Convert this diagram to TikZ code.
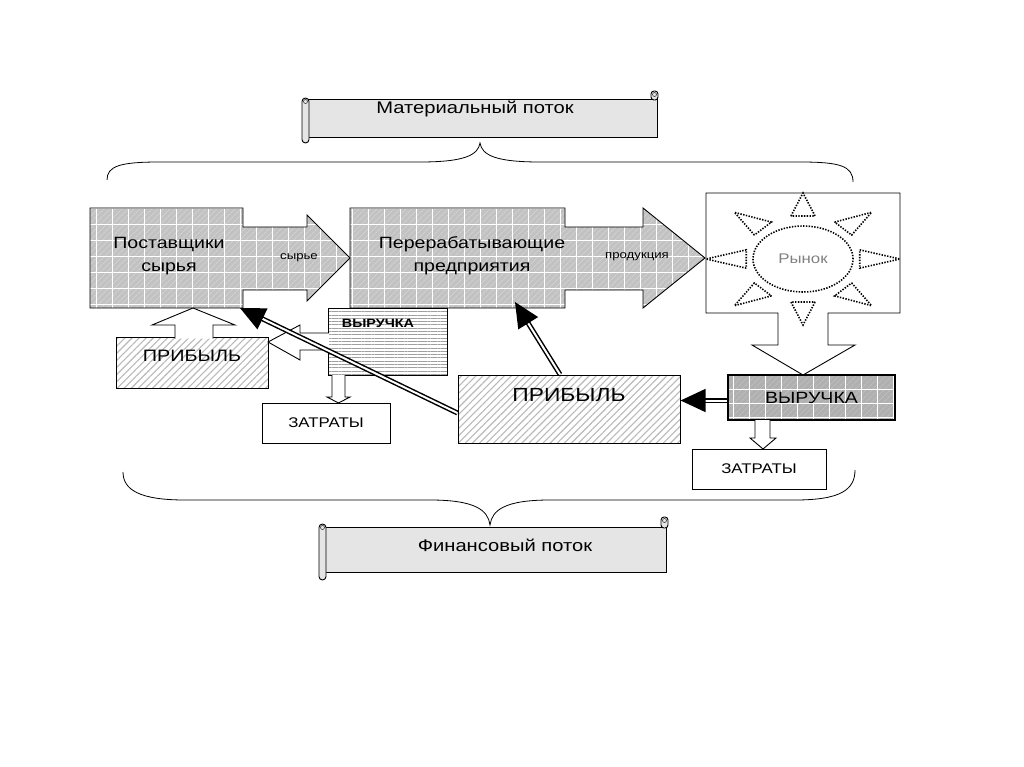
\documentclass[tikz,border=0pt]{standalone}
\usepackage{fontspec}
\setmainfont[FakeStretch=1.2]{Liberation Sans}
\usetikzlibrary{patterns.meta,arrows.meta}

\begin{document}
\begin{tikzpicture}[x=1pt,y=-1pt,
    gridfill/.style={preaction={fill=gray!48},pattern={Lines[angle=45,distance=4pt,line width=.5pt]},pattern color=gray!28,
        path picture={\draw[white,line width=.9pt,xstep=16pt,ystep=16pt] (path picture bounding box.south west) grid (path picture bounding box.north east);}},
    darkgrid/.style={preaction={fill=gray!62},pattern={Lines[angle=45,distance=4pt,line width=.5pt]},pattern color=gray!45,
        path picture={\draw[white,line width=.9pt,xstep=16pt,ystep=14pt] (path picture bounding box.south west) grid (path picture bounding box.north east);}},
    hatch/.style={preaction={fill=white},pattern={Lines[angle=45,distance=5pt,line width=1.1pt]},pattern color=gray!55},
    hlines/.style={preaction={fill=white},pattern={Lines[angle=0,distance=3.3pt,line width=.6pt]},pattern color=gray!75},
    openarrow/.style={draw,fill=white,line width=.9pt,line join=miter},
    conn/.style={double,double distance=2pt,line width=1.5pt,-{Triangle[length=25pt,width=23pt]}},
    sunline/.style={line width=1.6pt,dash pattern=on 1.4pt off 1.4pt},
    bigtxt/.style={font=\fontsize{16.3}{23}\selectfont,align=center},
    smalltxt/.style={font=\fontsize{11}{13}\selectfont},
    midtxt/.style={font=\fontsize{14}{16}\selectfont},
    scrolltxt/.style={font=\fontsize{16.8}{19}\selectfont},
    box/.style={draw,line width=.9pt,inner sep=0pt}]
    \useasboundingbox (0,0) rectangle (1024,767);

    \begin{scope}
    \draw[fill=gray!20,line width=.9pt] (306,99) -- (657,99) -- (657,137) -- (306,137) -- cycle;
    \draw[fill=gray!20,line width=.9pt,rounded corners=3.5pt] (302,98) rectangle (309,143);
    \draw (305.5,101.5) circle[radius=2pt];
    \draw[fill=gray!20,line width=.9pt,rounded corners=3pt] (651,91) rectangle (658,100);
    \draw (654.5,94.5) circle[radius=2pt];
    \node[scrolltxt] (matflow) at (475,109) {Материальный поток};
    \draw[line width=.8pt] (107,180) .. controls (107,166) and (120,162) .. (160,162) -- (420,162)
        .. controls (465,162) and (478,155) .. (480,143) .. controls (482,155) and (495,162) .. (540,162)
        -- (800,162) .. controls (840,162) and (853,166) .. (853,182);
    \end{scope}

    \begin{scope}
    \draw[fill=gray!20,line width=.9pt] (325,527) -- (666,527) -- (666,572) -- (325,572) -- cycle;
    \draw[fill=gray!20,line width=.9pt,rounded corners=3.5pt] (319,524) rectangle (326,580);
    \draw (322.5,527.5) circle[radius=2pt];
    \draw[fill=gray!20,line width=.9pt,rounded corners=3pt] (661,517) rectangle (668,528);
    \draw (664.5,520.5) circle[radius=2pt];
    \node[scrolltxt] (finflow) at (505,545) {Финансовый поток};
    \draw[line width=.8pt] (123,472) .. controls (123,490) and (140,500) .. (185,500) -- (430,500)
        .. controls (475,500) and (488,510) .. (490,525) .. controls (492,510) and (505,500) .. (550,500)
        -- (795,500) .. controls (840,500) and (855,490) .. (855,470);
    \end{scope}

    \draw[gridfill,line width=.9pt] (90,208) -- (243,208) -- (243,227) -- (307,227) -- (307,215) -- (350,258)
        -- (307,301) -- (307,290) -- (243,290) -- (243,308) -- (90,308) -- cycle;
    \draw[gridfill,line width=.9pt] (350,208) -- (565,208) -- (565,227) -- (643,227) -- (643,208) -- (705,258)
        -- (643,308) -- (643,290) -- (565,290) -- (565,308) -- (350,308) -- cycle;
    \node[bigtxt] (supp) at (169,256) {Поставщики\\сырья};
    \node[smalltxt] (raw) at (299,258) {сырье};
    \node[bigtxt] (proc) at (472,256) {Перерабатывающие\\предприятия};
    \node[smalltxt] (prod) at (637,257) {продукция};
    \coordinate (suppcorner) at (240,308);
    \coordinate (procbot) at (515,302);

    \draw[fill=white,line width=.9pt,line join=miter] (706,193) -- (900,193) -- (900,313) -- (828,313) -- (828,345)
        -- (855,345) -- (803,375) -- (752,345) -- (778,345) -- (778,313) -- (706,313) -- cycle;
    \draw[sunline] (803,259) ellipse[x radius=50pt,y radius=33pt];
    \foreach \a in {0,45,...,315}
        \draw[sunline] ({803+58*cos(\a+12)},{259-44*sin(\a+12)}) -- ({803+97*cos(\a)},{259-66*sin(\a)})
            -- ({803+58*cos(\a-12)},{259-44*sin(\a-12)}) -- cycle;
    \node[font=\fontsize{14}{16}\selectfont,text=gray] (market) at (803,259) {Рынок};

    \node[box,darkgrid,line width=1.6pt,minimum width=167pt,minimum height=45pt,bigtxt] (vyr2) at (811.5,397.5) {ВЫРУЧКА};
    \node[box,minimum width=134pt,minimum height=40pt,midtxt] (zat2) at (759,469) {ЗАТРАТЫ};
    \node[box,hatch,minimum width=222pt,minimum height=68pt] (prib2) at (569,409) {};
    \node[font=\fontsize{19}{21}\selectfont] (prib2txt) at (569,395) {ПРИБЫЛЬ};
    \node[box,hlines,minimum width=119pt,minimum height=67pt] (vyr1) at (387.5,341.5) {};
    \node[font=\bfseries\fontsize{12}{14}\selectfont] (vyr1txt) at (378,323) {ВЫРУЧКА};
    \node[box,minimum width=128pt,minimum height=40pt,midtxt] (zat1) at (326,423) {ЗАТРАТЫ};
    \node[box,hatch,minimum width=152pt,minimum height=51pt] (prib1) at (192,362.5) {};
    \node[font=\fontsize{16.5}{18}\selectfont] (prib1txt) at (192,356) {ПРИБЫЛЬ};

    \draw[openarrow] (329,333) -- (300,333) -- (300,325) -- (268,342) -- (300,360) -- (300,350) -- (329,350);
    \draw[openarrow] (175,338.5) -- (175,325) -- (152,325) -- (193,308) -- (235,325) -- (213,325) -- (213,338.5);
    \draw[openarrow] (332,375) -- (332,397) -- (327,397) -- (338.5,403) -- (350,397) -- (345,397) -- (345,375);
    \draw[openarrow] (755,420) -- (755,438) -- (750,438) -- (763,449) -- (776,438) -- (770,438) -- (770,420);

    \draw[conn] ([yshift=-3pt]vyr2.west) -- ([yshift=-3pt]prib2.east |- vyr2.west);
    \draw[conn] ([xshift=-9pt]prib2.north) -- (procbot);
    \draw[conn] ([yshift=-4pt]prib2.west) -- (suppcorner);
\end{tikzpicture}
\end{document}
